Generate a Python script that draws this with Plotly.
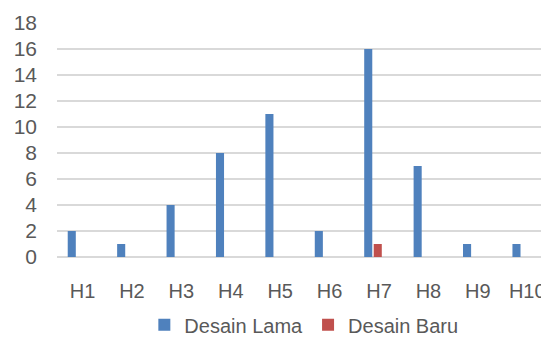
import plotly.graph_objects as go

categories = ["H1", "H2", "H3", "H4", "H5", "H6", "H7", "H8", "H9", "H10"]
desain_lama = [2, 1, 4, 8, 11, 2, 16, 7, 1, 1]
desain_baru = [0, 0, 0, 0, 0, 0, 1, 0, 0, 0]
y_ticks = [0, 2, 4, 6, 8, 10, 12, 14, 16, 18]

FONT = "Liberation Sans"
GREY = "#595959"

fig = go.Figure()
fig.add_trace(go.Bar(x=categories, y=desain_lama, name="Desain Lama",
                     marker=dict(color="#4F81BD", line=dict(width=0))))
fig.add_trace(go.Bar(x=categories, y=desain_baru, name="Desain Baru",
                     marker=dict(color="#C0504D", line=dict(width=0))))

fig.update_layout(
    width=541, height=352,
    margin=dict(l=57, r=0, t=23, b=95, autoexpand=False),
    paper_bgcolor="white", plot_bgcolor="white",
    barmode="group", bargap=0.615, bargroupgap=0.15,
    font=dict(family=FONT, size=20, color=GREY),
    legend=dict(orientation="h", x=0.51, xanchor="center", y=-0.29, yanchor="middle",
                font=dict(size=20, color=GREY)),
    showlegend=True,
)
fig.update_xaxes(
    type="category", range=[-0.395, 9.4], automargin=False,
    showgrid=False, showline=False, zeroline=False,
    ticks="", ticklabelstandoff=20, ticklabelshift=6,
    ticklabeloverflow="allow",
    tickfont=dict(size=20, color=GREY),
)
fig.update_yaxes(
    range=[0, 18], tickvals=y_ticks, automargin=False,
    showgrid=True, gridcolor="#D9D9D9", gridwidth=1.5,
    zeroline=True, zerolinecolor="#D9D9D9", zerolinewidth=1.5,
    showline=False, ticks="", ticklabelstandoff=19,
    tickfont=dict(size=21, color=GREY),
)

fig.write_html(
    "out.html",
    config={"displayModeBar": False},
    post_script="document.body.style.margin='0';document.body.style.overflow='hidden';",
)
